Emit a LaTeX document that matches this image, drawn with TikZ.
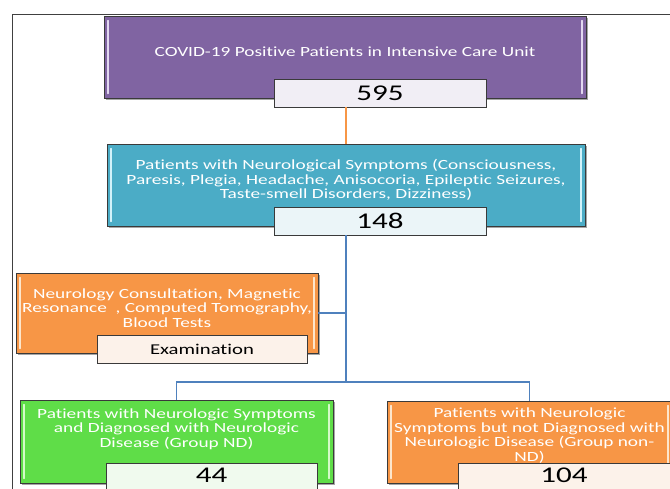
\documentclass[tikz,border=0pt]{standalone}
\usepackage{fontspec}
\setmainfont{Carlito}[FakeStretch=1.38, RawFeature={-liga}]
\usetikzlibrary{shadows}
\definecolor{cpurple}{HTML}{8064A2}
\definecolor{cblue}{HTML}{4BACC6}
\definecolor{corange}{HTML}{F79646}
\definecolor{cgreen}{HTML}{5FDD48}
\definecolor{lnblue}{HTML}{4F81BD}
\definecolor{edgec}{HTML}{3A3A3A}
\definecolor{bvpurple}{HTML}{E2D8F0}
\definecolor{bvblue}{HTML}{D2F2FA}
\definecolor{bvorange}{HTML}{FDE6CC}
\definecolor{bvgreen}{HTML}{D4FAC8}
\definecolor{nbpurple}{HTML}{F1EEF5}
\definecolor{nbblue}{HTML}{EBF5F8}
\definecolor{nborange}{HTML}{FCF2EA}
\definecolor{nbgreen}{HTML}{F0FAEE}
\begin{document}
\begin{tikzpicture}[x=1pt,y=-1pt,
  mainbox/.style={draw=edgec, line width=0.8pt, rectangle, inner sep=0pt,
    drop shadow={shadow xshift=1.5pt,shadow yshift=-1.5pt,fill=black,opacity=0.35}},
  numbox/.style={draw=edgec, line width=0.8pt, rectangle, inner sep=0pt,
    font=\fontsize{22.5}{24}\selectfont, text=black},
  txt/.style={text=white, align=center, inner sep=0pt, font=\fontsize{14}{14.5}\selectfont},
  bevel/.style={line width=1.6pt, line cap=round},
  conn/.style={line width=1.8pt, draw=lnblue}
]
\useasboundingbox (0,0) rectangle (670,488);
\clip (0,0) rectangle (670,488);
% frame
\draw[line width=0.8pt, draw=black!75] (12,500) -- (12,14) -- (680,14);

% main boxes
\node[mainbox, fill=cpurple, minimum width=482pt, minimum height=82pt] (covid) at (345,57) {};
\node[mainbox, fill=cblue, minimum width=478pt, minimum height=82pt] (neuro) at (346,185) {};
\node[mainbox, fill=corange, minimum width=302pt, minimum height=80pt] (exam) at (167,313) {};
\node[mainbox, fill=cgreen, minimum width=313pt, minimum height=83pt] (nd) at (176.5,441.5) {};
\node[mainbox, fill=corange, minimum width=285pt, minimum height=82pt] (nonnd) at (529.5,442) {};

% bevels
\foreach \b/\c in {covid/bvpurple, neuro/bvblue, exam/bvorange, nd/bvgreen, nonnd/bvorange}{
  \draw[bevel, draw=\c] ([xshift=4.5pt,yshift=-5pt]\b.north west) -- ([xshift=4.5pt,yshift=5pt]\b.south west);
  \draw[bevel, draw=\c] ([xshift=-4.5pt,yshift=-5pt]\b.north east) -- ([xshift=-4.5pt,yshift=5pt]\b.south east);
}

% texts
\node[txt] (covidtxt) at (345,52) {COVID-19 Positive Patients in Intensive Care Unit};
\node[txt] (neurotxt) at (346,180) {Patients with Neurological Symptoms (Consciousness,\\Paresis, Plegia, Headache, Anisocoria, Epileptic Seizures,\\Taste-smell Disorders, Dizziness)};
\node[txt] (examtxt) at (167,308) {Neurology Consultation, Magnetic\\Resonance~ , Computed Tomography,\\Blood Tests};
\node[txt] (ndtxt) at (176.5,429) {Patients with Neurologic Symptoms\\and Diagnosed with Neurologic\\Disease (Group ND)};
\node[txt] (nonndtxt) at (529.5,435.5) {Patients with Neurologic\\Symptoms but not Diagnosed with\\Neurologic Disease (Group non-\\ND)};

% number boxes
\node[numbox, fill=nbpurple, minimum width=212pt, minimum height=28pt] (n595) at (380,93) {595};
\node[numbox, fill=nbblue, minimum width=212pt, minimum height=28pt] (n148) at (380,221) {148};
\node[numbox, fill=nborange, minimum width=210pt, minimum height=28pt, font=\fontsize{15}{16}\selectfont] (nexam) at (202,349) {Examination};
\node[numbox, fill=nbgreen, minimum width=211pt, minimum height=30pt, text depth=5pt] (n44) at (211.5,478) {44};
\node[numbox, fill=nborange, minimum width=212pt, minimum height=30pt, text depth=5pt] (n104) at (564,478) {104};

% connectors
\coordinate (split) at (346,382);
\draw[line width=1.8pt, draw=corange] (n595.south -| neuro.north) -- (neuro.north);
\draw[conn] (n148.south -| neuro.south) -- (split);
\draw[conn] (exam.east) -- (exam.east -| split);
\draw[conn] (nd.north) -- (nd.north |- split) -- (nonnd.north |- split) -- (nonnd.north);
\end{tikzpicture}
\end{document}
